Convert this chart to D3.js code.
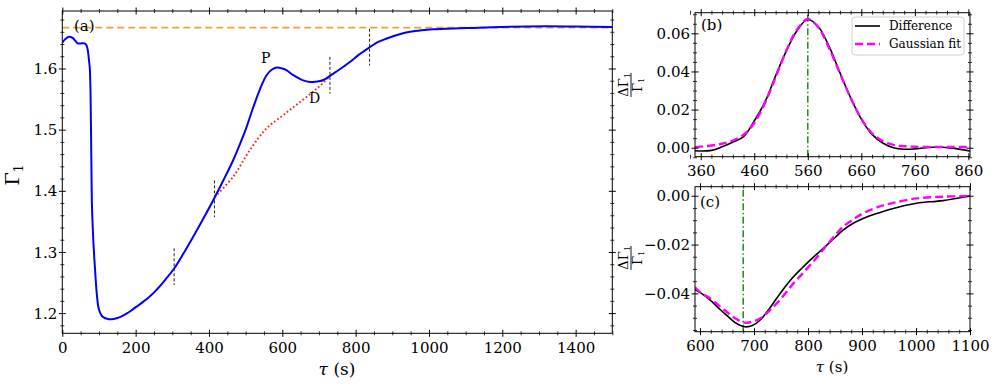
<!DOCTYPE html>
<html><head><meta charset="utf-8">
<script src="https://cdn.jsdelivr.net/npm/d3@7"></script>
<style>
body{margin:0;background:#fff;}
svg text{font-family:"DejaVu Serif",serif;fill:#000;}
</style></head>
<body><svg id="c" width="996" height="388"></svg>
<script>
// ---------- Panel (a) data ----------
const tauA = [0,8,18,28,36,42,50,60,66,70,73,75,77,79,80.5,83,86,90,94,100,110,127,140,157,175,194,215,240,257,280,305,330,357,385,412,440,466,485,503,521,539,557,571,585,600,612,630,655,676,700,715,730,745,760,785,810,839,860,885,920,948,980,1012,1050,1103,1200,1321,1400,1500];
const gammaA = [1.642,1.648,1.652,1.650,1.645,1.641,1.641,1.641,1.638,1.628,1.612,1.600,1.560,1.460,1.385,1.340,1.303,1.265,1.232,1.206,1.194,1.190,1.1905,1.1935,1.199,1.207,1.216,1.228,1.238,1.254,1.273,1.297,1.325,1.355,1.385,1.418,1.450,1.477,1.505,1.537,1.566,1.589,1.598,1.6016,1.600,1.597,1.589,1.581,1.578,1.579,1.582,1.588,1.594,1.600,1.611,1.623,1.635,1.643,1.649,1.656,1.660,1.6625,1.664,1.665,1.666,1.668,1.669,1.6685,1.668];
const tauDip = [416,466,512,557,603,648,694,730];
const gammaDip = [1.390,1.423,1.467,1.502,1.524,1.545,1.567,1.587];
const gammaIdeal = 5/3;
const markerTau = [305,415,730,838];
const markerGamma = [1.276,1.387,1.589,1.635];
const markerHalf = 0.03;
const ticksAx = [0,200,400,600,800,1000,1200,1400];
const ticksAy = [1.2,1.3,1.4,1.5,1.6];

// ---------- Panel (b) data ----------
const tauB = [349.3,380,400,420,440,460,480,500,520,540,560,580,600,620,640,660,680,700,720,740,760,780,800,830,863];
const diffB = [-0.0016,-0.0014,0.0005,0.0030,0.0058,0.0140,0.0240,0.0378,0.0508,0.0615,0.0672,0.0633,0.0530,0.0393,0.0262,0.0150,0.0070,0.0025,0.0000,-0.0008,-0.0006,0.0000,0.0004,-0.0002,-0.0017];
const tauBfit = [349.3,380,400,420,440,460,480,500,520,540,560,580,600,620,640,660,680,700,720,740,760,800,863];
const fitB = [0.0003,0.0012,0.0021,0.0038,0.0068,0.0130,0.0235,0.0370,0.0510,0.0620,0.0675,0.0630,0.0520,0.0390,0.0262,0.0152,0.0076,0.0035,0.0015,0.0008,0.0005,0.0004,0.0004];
const peakB = 560;
const ticksBx = [360,460,560,660,760,860];
const ticksBy = [0,0.02,0.04,0.06];

// ---------- Panel (c) data ----------
const tauC = [590.7,600,618.5,635,649,665,683,697,711,726,742,757,773,789,804,820,835,850,865,883,902,930,958,1001,1050,1100];
const diffC = [-0.0384,-0.0396,-0.0427,-0.0462,-0.0489,-0.0520,-0.0537,-0.0532,-0.0510,-0.0470,-0.0420,-0.0375,-0.0332,-0.0296,-0.0264,-0.0232,-0.0202,-0.0171,-0.0141,-0.0114,-0.0093,-0.0071,-0.0052,-0.0031,-0.0020,-0.0001];
const tauCfit = [590.7,600,618.5,635,649,665,683,697,711,726,742,757,773,789,804,820,835,850,865,883,902,930,958,1001,1050,1100];
const fitC = [-0.0375,-0.0395,-0.0420,-0.0450,-0.0475,-0.0502,-0.0520,-0.0516,-0.0503,-0.0477,-0.0441,-0.0403,-0.0359,-0.0321,-0.0284,-0.0243,-0.0202,-0.0163,-0.0127,-0.0098,-0.0072,-0.0046,-0.0029,-0.0011,-0.0004,-0.0001];
const dipC = 680;
const ticksCx = [600,700,800,900,1000,1100];
const ticksCy = [0,-0.02,-0.04];

const svg = d3.select("#c");
const fmt2 = v => (v<0?"\u2212":"") + Math.abs(v).toFixed(2);

function range(a,b,s){const r=[];for(let v=a;v<=b+1e-9;v+=s)r.push(+v.toFixed(6));return r;}

function panel(id, x, y, xt, yt, xminor, yminor, xfmt, yfmt){
  const g = svg.append("g");
  const [x0,x1] = x.range(), [y0,y1] = y.range();
  const clipId = "clip"+id;
  svg.append("clipPath").attr("id",clipId).append("rect")
    .attr("x",x0).attr("y",y1).attr("width",x1-x0).attr("height",y0-y1);
  const plot = g.append("g").attr("clip-path",`url(#${clipId})`);
  function mk(axisFn, scale, vals, fmt, tr, len, major, sideLab){
    const a = axisFn(scale).tickValues(vals).tickSizeOuter(0).tickSize(0).tickPadding(0)
      .tickFormat(sideLab ? fmt : "");
    const ag = g.append("g").attr("transform",tr).call(a);
    ag.attr("font-family",null);
    ag.select(".domain").remove();
    const horiz = (axisFn===d3.axisBottom||axisFn===d3.axisTop);
    ag.selectAll(".tick line").attr(horiz?"y1":"x1",-len).attr(horiz?"y2":"x2",len)
      .attr("stroke","#000").attr("stroke-width",major?1:0.8);
    return ag;
  }
  const xm = xminor.filter(v=>!xt.includes(v));
  const ym = yminor.filter(v=>!yt.some(t=>Math.abs(t-v)<1e-9));
  mk(d3.axisBottom,x,xm,null,`translate(0,${y0})`,2,false,false);
  mk(d3.axisTop,x,xm,null,`translate(0,${y1})`,2,false,false);
  mk(d3.axisLeft,y,ym,null,`translate(${x0},0)`,2,false,false);
  mk(d3.axisRight,y,ym,null,`translate(${x1},0)`,2,false,false);
  const bx = mk(d3.axisBottom,x,xt,xfmt,`translate(0,${y0})`,3.5,true,true);
  bx.selectAll(".tick text").attr("y",9).attr("dy","0.71em").style("font-size","15px");
  mk(d3.axisTop,x,xt,null,`translate(0,${y1})`,3.5,true,false);
  const ly = mk(d3.axisLeft,y,yt,yfmt,`translate(${x0},0)`,3.5,true,true);
  ly.selectAll(".tick text").attr("x",-5).attr("dy","0.34em").style("font-size","15px");
  mk(d3.axisRight,y,yt,null,`translate(${x1},0)`,3.5,true,false);
  g.append("rect").attr("x",x0).attr("y",y1).attr("width",x1-x0).attr("height",y0-y1)
    .attr("fill","none").attr("stroke","#000").attr("stroke-width",1);
  return {g, plot};
}

// ---------- Panel (a) ----------
const xA = d3.scaleLinear().domain([0,1500]).range([62.3,612.3]);
const yA = d3.scaleLinear().domain([1.167,1.694]).range([333.3,11]);
const pa = panel("a", xA, yA, ticksAx, ticksAy, range(0,1500,50), range(1.18,1.68,0.02), d3.format("d"), d3.format(".1f"));
pa.plot.append("line").attr("x1",xA(0)).attr("x2",xA(1500)).attr("y1",yA(gammaIdeal)).attr("y2",yA(gammaIdeal))
  .attr("stroke","#e9a43a").attr("stroke-width",1.8).attr("stroke-dasharray","7,4");
const lineA = d3.line().x(d=>xA(d[0])).y(d=>yA(d[1])).curve(d3.curveCatmullRom.alpha(0.5));
pa.plot.append("path").attr("d",lineA(tauDip.map((t,i)=>[t,gammaDip[i]])))
  .attr("fill","none").attr("stroke","#ff2020").attr("stroke-width",2).attr("stroke-dasharray","1.6,2.4");
pa.plot.append("path").attr("d",lineA(tauA.map((t,i)=>[t,gammaA[i]])))
  .attr("fill","none").attr("stroke","#0000ff").attr("stroke-width",2);
markerTau.forEach((t,i)=>{
  pa.plot.append("line").attr("x1",xA(t)).attr("x2",xA(t))
    .attr("y1",yA(markerGamma[i]+markerHalf)).attr("y2",yA(markerGamma[i]-markerHalf))
    .attr("stroke","#222").attr("stroke-width",1).attr("stroke-dasharray","3,2");
});
pa.g.append("text").attr("x",74).attr("y",31).style("font-size","15px").text("(a)");
pa.g.append("text").attr("x",261).attr("y",63).style("font-size","14px").text("P");
pa.g.append("text").attr("x",309).attr("y",103).style("font-size","14px").text("D");
svg.append("text").attr("x",337).attr("y",375).attr("text-anchor","middle").style("font-size","17px")
  .html('<tspan font-style="italic">τ</tspan> (s)');
svg.append("text").attr("transform","translate(19,175) rotate(-90)").attr("text-anchor","middle").style("font-size","19px")
  .html('Γ<tspan font-size="12px" dy="4">1</tspan>');

// ---------- Panel (b) ----------
const xB = d3.scaleLinear().domain([349.3,863]).range([695,970]);
const yB = d3.scaleLinear().domain([-0.0047,0.0708]).range([156.7,12.7]);
const pb = panel("b", xB, yB, ticksBx, ticksBy, range(340,860,20), range(-0.005,0.07,0.005), d3.format("d"), fmt2);
pb.plot.append("line").attr("x1",xB(peakB)).attr("x2",xB(peakB)).attr("y1",yB.range()[0]).attr("y2",yB.range()[1])
  .attr("stroke","#1a8c1a").attr("stroke-width",1.5).attr("stroke-dasharray","7,2.5,1.5,2.5");
const lineB = d3.line().x(d=>xB(d[0])).y(d=>yB(d[1])).curve(d3.curveCatmullRom.alpha(0.5));
pb.plot.append("path").attr("d",lineB(tauB.map((t,i)=>[t,diffB[i]])))
  .attr("fill","none").attr("stroke","#000").attr("stroke-width",1.6);
pb.plot.append("path").attr("d",lineB(tauBfit.map((t,i)=>[t,fitB[i]])))
  .attr("fill","none").attr("stroke","#ff00ff").attr("stroke-width",2.4).attr("stroke-dasharray","8,4");
pb.g.append("text").attr("x",701).attr("y",30).style("font-size","15px").text("(b)");
// legend
const lg = pb.g.append("g");
lg.append("rect").attr("x",852).attr("y",17).attr("width",112).attr("height",38).attr("rx",3)
  .attr("fill","#fff").attr("fill-opacity",0.85).attr("stroke","#d0d0d0");
lg.append("line").attr("x1",855).attr("x2",880).attr("y1",26).attr("y2",26).attr("stroke","#000").attr("stroke-width",1.6);
lg.append("text").attr("x",889).attr("y",30).style("font-size","12px").text("Difference");
lg.append("line").attr("x1",855).attr("x2",880).attr("y1",44).attr("y2",44).attr("stroke","#ff00ff").attr("stroke-width",2.4).attr("stroke-dasharray","8,4");
lg.append("text").attr("x",889).attr("y",48).style("font-size","12px").text("Gaussian fit");

function fracLabel(cx, cy){
  const f = svg.append("g").attr("transform",`translate(${cx},${cy}) rotate(-90)`);
  f.append("text").attr("x",0).attr("y",-3).attr("text-anchor","middle").style("font-size","13px")
    .html('ΔΓ<tspan font-size="8px" dy="2">1</tspan>');
  f.append("line").attr("x1",-12).attr("x2",12).attr("y1",0).attr("y2",0).attr("stroke","#000").attr("stroke-width",0.9);
  f.append("text").attr("x",0).attr("y",11).attr("text-anchor","middle").style("font-size","13px")
    .html('Γ<tspan font-size="8px" dy="2">1</tspan>');
}
fracLabel(631,85);

// ---------- Panel (c) ----------
const xC = d3.scaleLinear().domain([590.7,1100]).range([695,970]);
const yC = d3.scaleLinear().domain([-0.0557,0.0037]).range([331.7,186.7]);
const pc = panel("c", xC, yC, ticksCx, ticksCy, range(600,1100,20), range(-0.055,0.0,0.005), d3.format("d"), fmt2);
pc.plot.append("line").attr("x1",xC(dipC)).attr("x2",xC(dipC)).attr("y1",yC.range()[0]).attr("y2",yC.range()[1])
  .attr("stroke","#1a8c1a").attr("stroke-width",1.5).attr("stroke-dasharray","7,2.5,1.5,2.5");
const lineC = d3.line().x(d=>xC(d[0])).y(d=>yC(d[1])).curve(d3.curveCatmullRom.alpha(0.5));
pc.plot.append("path").attr("d",lineC(tauC.map((t,i)=>[t,diffC[i]])))
  .attr("fill","none").attr("stroke","#000").attr("stroke-width",1.6);
pc.plot.append("path").attr("d",lineC(tauCfit.map((t,i)=>[t,fitC[i]])))
  .attr("fill","none").attr("stroke","#ff00ff").attr("stroke-width",2.4).attr("stroke-dasharray","8,4");
pc.g.append("text").attr("x",700).attr("y",207).style("font-size","15px").text("(c)");
fracLabel(631,258);
svg.append("text").attr("x",832).attr("y",372).attr("text-anchor","middle").style("font-size","15px")
  .html('<tspan font-style="italic">τ</tspan> (s)');
</script></body></html>
